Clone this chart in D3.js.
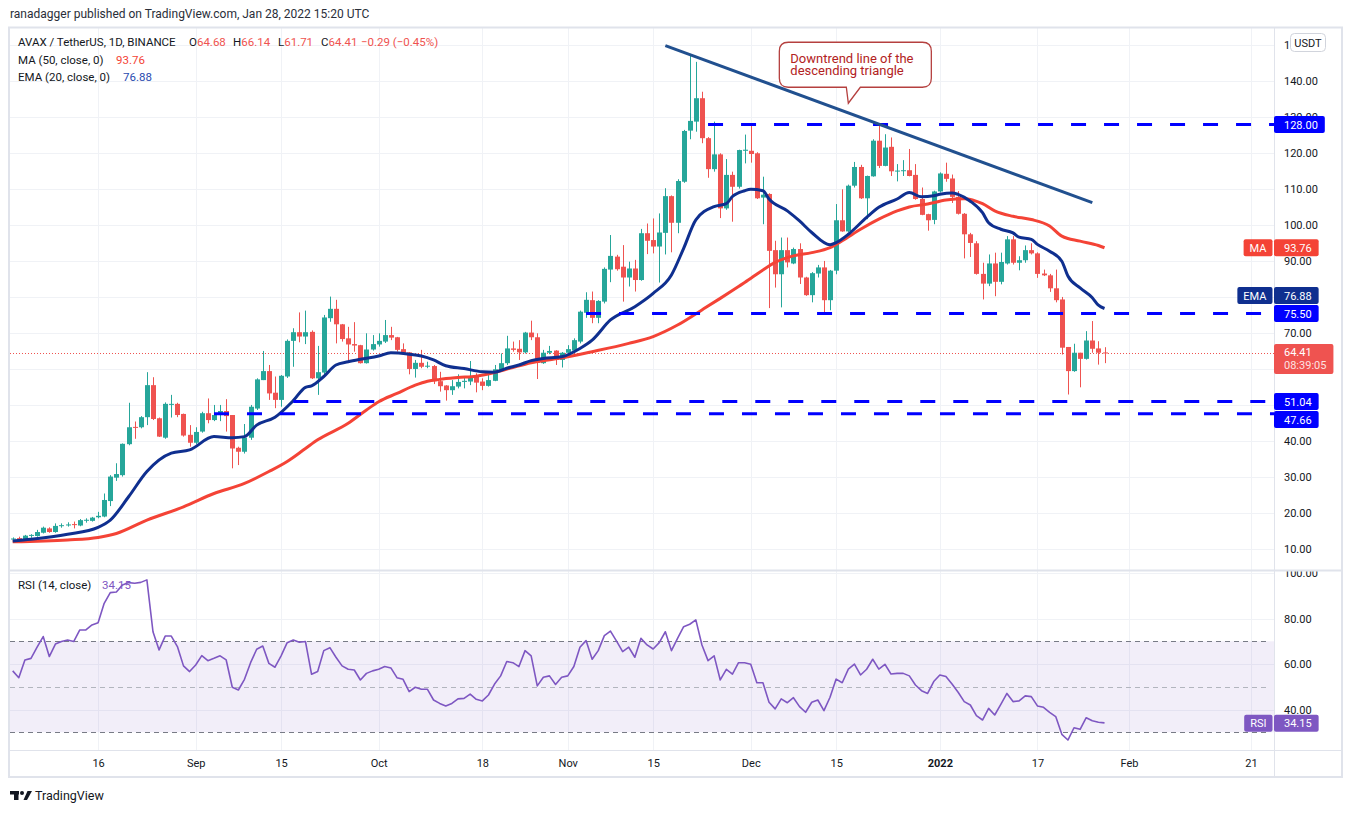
<!DOCTYPE html>
<html>
<head>
<meta charset="utf-8">
<title>AVAX / TetherUS 1D</title>
<script src="https://cdnjs.cloudflare.com/ajax/libs/d3/7.8.5/d3.min.js"></script>
<style>
    body { margin: 0; background: #fff; }
    svg { font-family: Roboto, "Noto Sans", sans-serif; }
</style>
</head>
<body>
<script>
    // daily candles, first one on Aug 2 2021
    var startDate = "2021-08-02";

    var opens = [12.9, 13.1, 12.6, 13.8, 13.7, 14.6, 15.8, 14.8, 16.5, 16.7,
        17.0, 16.6, 18.0, 17.9, 18.9, 19.1, 23.4, 29.9, 30.6, 39.2,
        44.0, 43.9, 46.7, 55.6, 46.4, 41.0, 50.3, 50.4, 47.6, 41.8,
        39.6, 42.7, 47.8, 45.9, 47.3, 48.4, 47.3, 38.2, 37.1, 41.0,
        49.1, 57.0, 59.5, 53.5, 51.5, 58.0, 67.9, 70.3, 69.1, 70.4,
        57.5, 59.1, 74.2, 76.8, 72.5, 68.6, 67.0, 66.7, 61.7, 65.5,
        66.9, 67.7, 69.5, 68.9, 65.6, 64.7, 60.1, 61.8, 60.8, 60.9,
        56.7, 55.5, 54.2, 55.2, 56.5, 56.6, 57.9, 56.6, 55.4, 56.8,
        59.8, 61.7, 65.8, 65.7, 64.7, 70.2, 68.9, 61.7, 64.6, 65.2,
        62.6, 64.6, 65.2, 67.7, 75.7, 79.2, 74.3, 78.8, 87.7, 91.3,
        88.5, 85.5, 88.0, 84.8, 97.8, 95.9, 94.1, 97.9, 108.1, 100.7,
        112.1, 126.3, 128.8, 135.3, 124.2, 115.6, 119.7, 104.7, 114.0, 110.7,
        120.7, 120.7, 120.0, 107.7, 108.7, 93.1, 86.4, 93.1, 89.4, 93.4,
        85.5, 80.6, 86.6, 88.3, 79.2, 87.4, 101.4, 98.3, 111.0, 116.2,
        107.5, 113.6, 123.5, 116.5, 121.8, 115.0, 115.2, 115.3, 114.0, 107.3,
        103.1, 101.5, 109.4, 114.3, 113.0, 107.9, 103.2, 97.5, 95.0, 86.5,
        83.8, 89.4, 84.3, 89.4, 96.1, 89.6, 90.3, 93.1, 92.2, 86.6,
        86.1, 82.5, 79.4, 66.2, 59.5, 64.6, 62.9, 68.0, 65.8, 64.68];

    var highs = [13.3, 13.5, 14.0, 14.2, 15.4, 16.3, 16.1, 17.2, 17.2, 17.5,
        17.7, 18.4, 18.6, 19.0, 20.4, 25.5, 30.6, 33.9, 39.4, 50.7,
        45.5, 47.0, 59.2, 57.8, 46.6, 50.8, 52.9, 50.7, 47.7, 44.5,
        43.9, 48.2, 51.9, 50.1, 50.1, 51.7, 47.3, 38.5, 44.8, 50.1,
        57.5, 65.1, 61.2, 58.0, 58.4, 68.3, 71.4, 75.8, 76.3, 70.8,
        66.5, 75.1, 80.2, 79.3, 72.6, 71.8, 73.1, 66.8, 70.0, 69.5,
        70.0, 73.7, 71.8, 69.0, 67.2, 64.8, 62.6, 65.4, 62.1, 61.2,
        59.3, 55.6, 57.0, 58.6, 57.9, 62.3, 58.9, 57.5, 58.4, 61.2,
        64.4, 69.3, 67.7, 68.1, 70.4, 73.5, 70.0, 65.4, 66.5, 65.3,
        64.8, 66.7, 68.6, 76.3, 81.4, 81.6, 79.2, 88.3, 97.3, 91.8,
        94.5, 89.9, 90.4, 99.0, 100.5, 101.9, 103.3, 110.3, 108.3, 112.8,
        126.5, 147.6, 145.4, 137.1, 124.5, 128.8, 120.0, 118.4, 114.9, 121.0,
        125.2, 127.6, 120.3, 113.5, 108.9, 95.7, 96.6, 96.6, 93.8, 95.0,
        85.7, 87.0, 89.0, 90.1, 87.6, 105.9, 110.0, 111.3, 117.6, 116.8,
        113.8, 123.9, 127.6, 125.3, 124.4, 117.0, 118.1, 121.2, 117.0, 110.5,
        103.2, 109.6, 114.7, 117.4, 114.1, 109.5, 103.4, 97.9, 95.6, 89.6,
        91.9, 92.4, 92.4, 97.0, 97.0, 91.4, 94.4, 95.0, 92.5, 87.7,
        86.5, 87.7, 80.1, 66.2, 67.1, 64.6, 70.6, 73.4, 67.8, 66.14];

    var lows = [12.7, 12.3, 12.4, 13.2, 13.5, 14.4, 14.6, 14.6, 16.0, 16.3,
        15.8, 16.4, 17.4, 17.7, 18.6, 18.9, 22.0, 29.0, 30.2, 38.9,
        40.7, 43.6, 44.5, 45.9, 41.2, 40.7, 46.6, 46.7, 41.3, 38.5,
        39.2, 42.4, 45.0, 45.6, 45.6, 42.7, 32.5, 33.4, 36.6, 40.4,
        48.7, 57.0, 51.5, 49.2, 49.6, 57.6, 60.7, 67.5, 67.0, 57.3,
        52.9, 58.4, 73.2, 67.2, 67.7, 61.8, 64.9, 61.6, 61.6, 65.2,
        66.3, 67.3, 68.1, 64.9, 64.0, 58.6, 57.7, 60.3, 60.3, 55.9,
        53.8, 51.3, 52.9, 54.7, 54.7, 55.6, 53.6, 54.2, 55.2, 56.7,
        59.3, 61.2, 64.9, 62.6, 64.4, 68.1, 57.3, 61.5, 64.2, 61.2,
        60.5, 64.2, 64.9, 67.2, 74.3, 72.8, 72.8, 78.3, 84.2, 87.4,
        78.8, 83.0, 81.6, 84.6, 92.0, 92.2, 84.1, 91.9, 92.5, 97.8,
        111.8, 123.9, 126.0, 122.8, 113.2, 114.9, 102.0, 104.3, 101.0, 110.2,
        117.2, 117.4, 107.3, 100.3, 77.0, 82.7, 77.2, 88.3, 89.2, 83.7,
        80.4, 78.6, 85.5, 75.8, 76.4, 86.4, 98.2, 98.1, 110.5, 107.3,
        101.7, 113.5, 115.9, 116.4, 113.7, 112.2, 113.7, 113.6, 107.1, 102.8,
        98.5, 100.3, 109.1, 112.1, 106.2, 103.0, 90.8, 91.2, 86.3, 79.4,
        83.1, 80.3, 83.6, 89.1, 89.1, 87.5, 89.6, 91.9, 85.4, 85.9,
        81.5, 78.6, 64.1, 53.0, 59.3, 55.0, 62.7, 64.6, 61.3, 61.71];

    var closes = [13.0, 12.6, 13.8, 14.0, 14.8, 16.0, 14.8, 16.5, 16.7, 16.9,
        16.8, 18.1, 18.2, 18.8, 19.3, 23.7, 30.2, 30.9, 39.3, 43.9,
        43.8, 46.7, 55.6, 46.2, 41.3, 50.4, 50.4, 47.3, 41.6, 39.6,
        42.6, 47.8, 45.9, 47.3, 48.4, 47.0, 38.0, 37.1, 41.0, 49.6,
        57.2, 59.5, 53.3, 51.5, 58.2, 67.9, 70.3, 69.1, 70.3, 57.5,
        59.2, 74.4, 76.8, 72.5, 68.4, 66.9, 66.6, 61.7, 65.5, 67.0,
        67.9, 69.5, 68.8, 65.4, 64.6, 60.1, 61.8, 60.7, 61.0, 56.7,
        55.3, 54.2, 55.3, 56.5, 56.8, 57.9, 56.3, 55.4, 57.0, 60.0,
        61.7, 65.8, 65.4, 64.7, 70.2, 68.9, 61.8, 64.6, 65.1, 62.6,
        64.6, 65.6, 68.1, 76.0, 79.3, 74.3, 79.0, 87.9, 91.5, 87.8,
        85.5, 88.0, 84.8, 97.8, 95.7, 94.1, 98.0, 108.1, 100.7, 112.3,
        126.2, 129.0, 135.3, 124.2, 115.6, 119.7, 104.7, 114.0, 110.7, 120.9,
        121.0, 119.8, 107.5, 108.5, 92.9, 86.4, 93.1, 89.7, 93.4, 85.5,
        80.6, 86.7, 88.3, 79.2, 87.4, 101.4, 98.3, 111.0, 116.2, 107.5,
        113.7, 123.5, 116.5, 121.6, 115.0, 115.2, 115.3, 113.7, 107.3, 102.9,
        101.4, 109.4, 114.4, 112.9, 107.9, 103.2, 97.5, 95.1, 86.5, 83.8,
        89.4, 84.3, 89.8, 96.1, 89.6, 90.3, 93.1, 92.2, 86.5, 86.1,
        82.5, 79.2, 66.0, 59.5, 64.6, 62.9, 68.0, 65.7, 64.6, 64.41];

    // RSI(14) one value per candle
    var rsiValues = [57.0, 54.0, 61.8, 62.5, 67.4, 72.1, 63.3, 68.8, 69.9, 70.6,
        69.9, 75.0, 75.0, 77.2, 78.2, 86.7, 91.4, 91.7, 94.8, 95.8,
        95.5, 95.9, 97.0, 74.2, 66.2, 72.3, 72.3, 67.7, 59.2, 56.7,
        59.6, 63.7, 61.5, 62.5, 63.6, 61.8, 49.8, 48.6, 53.3, 60.6,
        66.5, 67.9, 60.3, 58.6, 63.6, 69.4, 70.6, 69.6, 69.9, 55.5,
        56.7, 65.9, 67.2, 63.0, 59.2, 57.7, 57.4, 53.0, 55.9, 57.0,
        57.7, 58.9, 58.3, 54.0, 53.3, 47.9, 49.8, 48.9, 48.9, 44.2,
        42.7, 41.6, 42.7, 44.7, 44.9, 46.8, 44.5, 43.8, 46.4, 51.2,
        54.8, 61.1, 60.6, 58.9, 65.9, 63.6, 50.4, 54.2, 54.8, 51.0,
        54.2, 54.8, 58.9, 67.4, 70.3, 62.1, 65.9, 72.5, 74.5, 70.1,
        65.5, 67.4, 63.0, 71.3, 68.4, 66.6, 69.4, 74.2, 65.9, 71.3,
        76.4, 77.5, 79.4, 68.4, 61.5, 63.6, 53.0, 57.7, 55.6, 60.6,
        60.6, 59.9, 51.8, 51.8, 43.2, 40.3, 44.7, 43.0, 45.2, 41.3,
        38.8, 43.2, 44.2, 39.5, 45.4, 53.4, 51.8, 57.8, 60.0, 55.2,
        57.7, 62.1, 57.8, 59.9, 55.6, 55.9, 55.9, 54.8, 50.8, 48.3,
        47.1, 52.3, 55.2, 54.5, 51.2, 47.6, 43.5, 42.0, 37.3, 35.4,
        40.5, 37.6, 42.3, 47.1, 43.5, 43.8, 46.0, 45.7, 41.6, 41.0,
        38.8, 36.9, 29.1, 26.6, 32.0, 31.3, 36.4, 35.1, 34.4, 34.15];

    // moving averages
    var ema20 = [["2021-08-02", 12.3], ["2021-08-05", 12.8], ["2021-08-11", 14.2], ["2021-08-16", 16.1],
        ["2021-08-18", 18.1], ["2021-08-21", 24.6], ["2021-08-24", 31.6], ["2021-08-28", 36.7],
        ["2021-08-31", 37.6], ["2021-09-04", 41.3], ["2021-09-07", 41.0], ["2021-09-09", 41.3],
        ["2021-09-11", 44.5], ["2021-09-14", 46.7], ["2021-09-17", 51.3], ["2021-09-19", 55.0],
        ["2021-09-20", 55.4], ["2021-09-22", 58.0], ["2021-09-24", 61.2], ["2021-09-26", 62.1],
        ["2021-09-28", 62.8], ["2021-10-01", 63.7], ["2021-10-03", 64.6], ["2021-10-06", 64.2],
        ["2021-10-08", 63.7], ["2021-10-10", 62.6], ["2021-10-12", 61.0], ["2021-10-15", 60.2],
        ["2021-10-18", 59.3], ["2021-10-20", 59.2], ["2021-10-22", 60.3], ["2021-10-24", 61.2],
        ["2021-10-26", 62.4], ["2021-10-28", 63.0], ["2021-10-31", 63.5], ["2021-11-03", 65.8],
        ["2021-11-05", 68.1], ["2021-11-08", 73.7], ["2021-11-12", 77.4], ["2021-11-15", 81.1],
        ["2021-11-18", 86.2], ["2021-11-20", 93.6], ["2021-11-22", 101.5], ["2021-11-25", 105.2],
        ["2021-11-27", 106.0], ["2021-11-28", 108.0], ["2021-11-30", 109.6], ["2021-12-01", 110.0],
        ["2021-12-03", 109.6], ["2021-12-04", 107.3], ["2021-12-07", 104.0], ["2021-12-09", 101.2],
        ["2021-12-11", 98.0], ["2021-12-14", 94.6], ["2021-12-15", 95.2], ["2021-12-17", 97.5],
        ["2021-12-20", 102.2], ["2021-12-22", 105.0], ["2021-12-25", 107.3], ["2021-12-27", 109.1],
        ["2021-12-29", 107.9], ["2021-12-31", 108.2], ["2022-01-01", 108.6], ["2022-01-03", 109.0],
        ["2022-01-04", 108.6], ["2022-01-06", 106.7], ["2022-01-08", 103.5], ["2022-01-09", 100.7],
        ["2022-01-11", 98.9], ["2022-01-13", 97.9], ["2022-01-14", 96.7], ["2022-01-16", 96.1],
        ["2022-01-17", 94.7], ["2022-01-19", 92.8], ["2022-01-21", 90.0], ["2022-01-22", 85.9],
        ["2022-01-24", 82.6], ["2022-01-26", 79.9], ["2022-01-27", 77.8], ["2022-01-28", 76.88]];

    var ma50 = [["2021-08-02", 12.1], ["2021-08-11", 12.6], ["2021-08-16", 13.3], ["2021-08-19", 14.4],
        ["2021-08-24", 18.1], ["2021-08-30", 21.8], ["2021-09-04", 25.5], ["2021-09-09", 28.3],
        ["2021-09-13", 31.6], ["2021-09-16", 34.4], ["2021-09-19", 38.0], ["2021-09-21", 40.4],
        ["2021-09-26", 45.0], ["2021-09-29", 48.7], ["2021-10-01", 51.0], ["2021-10-04", 53.3],
        ["2021-10-07", 55.6], ["2021-10-09", 56.7], ["2021-10-11", 57.2], ["2021-10-14", 57.7],
        ["2021-10-17", 58.1], ["2021-10-20", 59.1], ["2021-10-23", 60.5], ["2021-10-26", 61.8],
        ["2021-10-30", 62.9], ["2021-11-01", 63.5], ["2021-11-05", 64.9], ["2021-11-11", 67.2],
        ["2021-11-15", 69.1], ["2021-11-19", 72.3], ["2021-11-23", 76.5], ["2021-11-26", 79.7],
        ["2021-11-29", 83.0], ["2021-11-30", 84.1], ["2021-12-03", 87.6], ["2021-12-05", 89.7],
        ["2021-12-08", 91.5], ["2021-12-11", 92.4], ["2021-12-14", 93.8], ["2021-12-16", 95.7],
        ["2021-12-19", 98.9], ["2021-12-22", 101.7], ["2021-12-25", 104.0], ["2021-12-27", 105.1],
        ["2021-12-30", 105.9], ["2022-01-02", 107.0], ["2022-01-05", 107.4], ["2022-01-08", 106.0],
        ["2022-01-10", 104.0], ["2022-01-13", 102.5], ["2022-01-16", 101.6], ["2022-01-19", 99.8],
        ["2022-01-21", 97.0], ["2022-01-24", 95.6], ["2022-01-27", 94.4], ["2022-01-28", 93.76]];

    // drawings
    var trendLine = [["2021-11-17", 149.9], ["2022-01-26", 106.3]];
    var levelPrices = [128.00, 75.50, 51.04, 47.66];
    var levelStarts = ["2021-11-24", "2021-11-04", "2021-09-17", "2021-09-04"];
    var calloutTip = ["2021-12-17", 133.9];
    var calloutText = ["Downtrend line of the", "descending triangle"];

    var priceTicks = [10, 20, 30, 40, 50, 60, 70, 80, 90, 100, 110, 120, 130, 140, 150];
    var rsiTicks = [40, 60, 80, 100];
    var timeTicks = ["2021-08-16", "2021-09-01", "2021-09-15", "2021-10-01", "2021-10-18", "2021-11-01",
        "2021-11-15", "2021-12-01", "2021-12-15", "2022-01-01", "2022-01-17", "2022-02-01", "2022-02-21"];
    var timeLabels = ["16", "Sep", "15", "Oct", "18", "Nov", "15", "Dec", "15", "2022", "17", "Feb", "21"];

    var lastPrice = 64.41, lastMA = 93.76, lastEMA = 76.88, lastRSI = 34.15;

    var upColor = "#26a69a", downColor = "#ef5350";
    var emaColor = "#0f2f8f", maColor = "#f44336", levelColor = "#0000ff", rsiColor = "#7e57c2";
    var textColor = "#131722", gridColor = "#f0f2f6", frameColor = "#e0e3eb";

    var width = 1352, height = 813;
    var left = 10, right = 1274, mainTop = 28, mainBottom = 570, rsiBottom = 750, frameBottom = 777;

    var parse = d3.utcParse("%Y-%m-%d");
    var t0 = parse(startDate);
    var dates = d3.utcDay.range(t0, d3.utcDay.offset(t0, closes.length));
    var candles = dates.map(function (d, i) {
        return { date: d, o: opens[i], h: highs[i], l: lows[i], c: closes[i] };
    });

    var x = d3.scaleUtc()
        .domain([parse("2021-08-02"), parse("2022-02-21")])
        .range([12.7, 1250.9]);
    var y = d3.scaleLinear().domain([10, 140]).range([549.3, 81.3]);
    var yr = d3.scaleLinear().domain([30, 70]).range([732.3, 641.3]);

    var svg = d3.select("body").append("svg")
        .attr("width", width)
        .attr("height", height);

    svg.append("rect").attr("width", width).attr("height", height).attr("fill", "#fff");

    var defs = svg.append("defs");
    function clip(id, x0, y0, w, h) {
        defs.append("clipPath").attr("id", id)
            .append("rect").attr("x", x0).attr("y", y0).attr("width", w).attr("height", h);
    }
    clip("mainClip", left, mainTop, right - left, mainBottom - mainTop);
    clip("rsiClip", left, mainBottom + 1, right - left, rsiBottom - mainBottom - 1);
    clip("mainAxisClip", right, mainTop, 70, mainBottom - mainTop);
    clip("rsiAxisClip", right, mainBottom + 1.5, 70, rsiBottom - mainBottom - 1.5);

    // header
    svg.append("text")
        .attr("x", 10).attr("y", 18)
        .attr("font-size", 12).attr("fill", "#2a2e39")
        .text("ranadagger published on TradingView.com, Jan 28, 2022 15:20 UTC");

    // grid
    var grid = svg.append("g");
    grid.selectAll(".hgrid").data(priceTicks).enter().append("line")
        .attr("x1", left).attr("x2", right)
        .attr("y1", function (d) { return Math.round(y(d)) + 0.5; })
        .attr("y2", function (d) { return Math.round(y(d)) + 0.5; })
        .attr("stroke", gridColor)
        .attr("clip-path", "url(#mainClip)");
    grid.selectAll(".vgrid").data(timeTicks).enter().append("line")
        .attr("x1", function (d) { return Math.round(x(parse(d))) + 0.5; })
        .attr("x2", function (d) { return Math.round(x(parse(d))) + 0.5; })
        .attr("y1", mainTop).attr("y2", rsiBottom)
        .attr("stroke", gridColor);
    grid.selectAll(".rgrid").data(rsiTicks).enter().append("line")
        .attr("x1", left).attr("x2", right)
        .attr("y1", function (d) { return Math.round(yr(d)) + 0.5; })
        .attr("y2", function (d) { return Math.round(yr(d)) + 0.5; })
        .attr("stroke", gridColor)
        .attr("clip-path", "url(#rsiClip)");

    // main pane
    var main = svg.append("g").attr("clip-path", "url(#mainClip)");

    main.append("line")
        .attr("x1", left).attr("x2", right)
        .attr("y1", Math.round(y(lastPrice)) + 0.5).attr("y2", Math.round(y(lastPrice)) + 0.5)
        .attr("stroke", downColor).attr("stroke-dasharray", "1,2");

    main.selectAll(".wick").data(candles).enter().append("line")
        .attr("x1", function (d) { return Math.round(x(d.date)) + 0.5; })
        .attr("x2", function (d) { return Math.round(x(d.date)) + 0.5; })
        .attr("y1", function (d) { return y(d.h); })
        .attr("y2", function (d) { return y(d.l); })
        .attr("stroke", function (d) { return d.c >= d.o ? upColor : downColor; })
        .attr("stroke-width", 1);

    main.selectAll(".body").data(candles).enter().append("rect")
        .attr("x", function (d) { return Math.round(x(d.date)) - 2; })
        .attr("width", 5)
        .attr("y", function (d) { return y(Math.max(d.o, d.c)); })
        .attr("height", function (d) { return Math.max(1, Math.abs(y(d.o) - y(d.c))); })
        .attr("fill", function (d) { return d.c >= d.o ? upColor : downColor; });

    var avgLine = d3.line()
        .x(function (d) { return x(parse(d[0])); })
        .y(function (d) { return y(d[1]); })
        .curve(d3.curveMonotoneX);

    main.append("path").datum(ma50)
        .attr("d", avgLine)
        .attr("fill", "none").attr("stroke", maColor).attr("stroke-width", 3)
        .attr("stroke-linejoin", "round");
    main.append("path").datum(ema20)
        .attr("d", avgLine)
        .attr("fill", "none").attr("stroke", emaColor).attr("stroke-width", 3)
        .attr("stroke-linejoin", "round");

    // horizontal levels
    main.selectAll(".level").data(levelPrices).enter().append("line")
        .attr("x1", function (d, i) { return x(parse(levelStarts[i])); })
        .attr("x2", right)
        .attr("y1", function (d) { return y(d); })
        .attr("y2", function (d) { return y(d); })
        .attr("stroke", levelColor).attr("stroke-width", 3)
        .attr("stroke-dasharray", "15,18");

    main.append("path").datum(trendLine)
        .attr("d", d3.line()
            .x(function (d) { return x(parse(d[0])); })
            .y(function (d) { return y(d[1]); }))
        .attr("stroke", "#21508f").attr("stroke-width", 3).attr("fill", "none");

    // callout
    var tipX = x(parse(calloutTip[0])), tipY = y(calloutTip[1]);
    var bl = tipX - 69, br = tipX + 83, bt = tipY - 61, bb = tipY - 16, r = 9;
    var cp = d3.path();
    cp.moveTo(bl + r, bt);
    cp.lineTo(br - r, bt);
    cp.quadraticCurveTo(br, bt, br, bt + r);
    cp.lineTo(br, bb - r);
    cp.quadraticCurveTo(br, bb, br - r, bb);
    cp.lineTo(tipX + 12, bb);
    cp.lineTo(tipX, tipY);
    cp.lineTo(tipX - 2, bb);
    cp.lineTo(bl + r, bb);
    cp.quadraticCurveTo(bl, bb, bl, bb - r);
    cp.lineTo(bl, bt + r);
    cp.quadraticCurveTo(bl, bt, bl + r, bt);
    cp.closePath();
    svg.append("path").attr("d", cp.toString())
        .attr("fill", "#fff").attr("stroke", "#b5403f").attr("stroke-width", 1.3);
    svg.selectAll(".callout").data(calloutText).enter().append("text")
        .attr("x", bl + 11)
        .attr("y", function (d, i) { return bt + 21 + i * 11.5; })
        .attr("font-size", 13).attr("fill", "#b22222")
        .text(function (d) { return d; });

    // legend
    var legend = svg.append("g").attr("font-size", 11.5).attr("fill", textColor);
    var l1 = legend.append("text").attr("y", 46);
    l1.append("tspan").attr("x", 18).text("AVAX / TetherUS, 1D, BINANCE");
    [["O", opens], ["H", highs], ["L", lows], ["C", closes]].forEach(function (p, i) {
        var xs = [189, 233, 278, 321][i];
        l1.append("tspan").attr("x", xs).text(p[0]);
        l1.append("tspan").attr("fill", downColor).text(p[1][p[1].length - 1].toFixed(2));
    });
    l1.append("tspan").attr("x", 361).attr("fill", downColor).text("\u22120.29 (\u22120.45%)");
    var l2 = legend.append("text").attr("x", 18).attr("y", 63.5);
    l2.append("tspan").text("MA (50, close, 0)");
    l2.append("tspan").attr("x", 116).attr("fill", maColor).text(lastMA.toFixed(2));
    var l3 = legend.append("text").attr("x", 18).attr("y", 81);
    l3.append("tspan").text("EMA (20, close, 0)");
    l3.append("tspan").attr("x", 123).attr("fill", "#2a4bb0").text(lastEMA.toFixed(2));

    // RSI pane
    var rsiG = svg.append("g").attr("clip-path", "url(#rsiClip)");
    rsiG.append("rect")
        .attr("x", left).attr("width", right - left)
        .attr("y", yr(70)).attr("height", yr(30) - yr(70))
        .attr("fill", rsiColor).attr("fill-opacity", 0.1);
    rsiG.selectAll(".band").data([70, 50, 30]).enter().append("line")
        .attr("x1", left).attr("x2", right - 5)
        .attr("y1", function (d) { return Math.round(yr(d)) + 0.5; })
        .attr("y2", function (d) { return Math.round(yr(d)) + 0.5; })
        .attr("stroke", function (d) { return d === 50 ? "#b2b5be" : "#787b86"; })
        .attr("stroke-dasharray", "5,4");
    svg.append("text").attr("x", 18).attr("y", 589)
        .attr("font-size", 11.5).attr("fill", textColor)
        .text("RSI (14, close)")
        .append("tspan").attr("x", 102).attr("fill", rsiColor).text(lastRSI.toFixed(2));
    rsiG.append("path").datum(rsiValues)
        .attr("d", d3.line()
            .x(function (d, i) { return x(dates[i]); })
            .y(function (d) { return yr(d); }))
        .attr("fill", "none").attr("stroke", rsiColor).attr("stroke-width", 1.6)
        .attr("stroke-linejoin", "round");

    // frame and separators
    var frame = svg.append("g").attr("stroke", frameColor).attr("fill", "none");
    frame.append("rect").attr("x", 9).attr("y", 27.5).attr("width", 1333).attr("height", frameBottom - 27.5)
        .attr("stroke-width", 2);
    frame.append("line").attr("x1", right + 0.5).attr("x2", right + 0.5).attr("y1", 28).attr("y2", frameBottom);
    frame.append("line").attr("x1", 9).attr("x2", 1342).attr("y1", mainBottom + 0.5).attr("y2", mainBottom + 0.5)
        .attr("stroke-width", 2);
    frame.append("line").attr("x1", 9).attr("x2", 1342).attr("y1", rsiBottom + 0.5).attr("y2", rsiBottom + 0.5);

    // price scale labels, pushed apart when they overlap
    var boxH = 17;
    var placed = [];
    function place(yc, h, dir) {
        var moved = true;
        while (moved) {
            moved = false;
            placed.forEach(function (p) {
                if (yc + h / 2 > p.top && yc - h / 2 < p.bottom) {
                    yc = dir < 0 ? p.top - h / 2 - 1 : p.bottom + h / 2 + 1;
                    moved = true;
                }
            });
        }
        placed.push({ top: yc - h / 2, bottom: yc + h / 2, center: yc, h: h });
        return yc;
    }
    var yMA = place(y(lastMA), boxH, -1);
    var y128 = place(y(levelPrices[0]), boxH, -1);
    var y755 = place(y(levelPrices[1]), boxH, 1);
    var y5104 = place(y(levelPrices[2]), boxH, -1);
    var y4766 = place(y(levelPrices[3]), boxH, 1);
    var yEMA = place(y(lastEMA), boxH, -1);
    var yLast = place(y(lastPrice) + 5.5, 30, 1);

    // tick labels that sit fully under a price box are not shown
    function hidden(ty) {
        return placed.some(function (p) { return Math.abs(ty - p.center) < p.h / 2 - 2.5; });
    }

    // axes
    function styleAxis(g) {
        g.select(".domain").remove();
        g.attr("font-family", null).attr("font-size", 11);
        g.selectAll("text").attr("fill", textColor);
    }
    svg.append("g").attr("clip-path", "url(#mainAxisClip)")
        .append("g")
        .attr("transform", "translate(" + right + ",0)")
        .call(d3.axisRight(y).tickValues(priceTicks.filter(function (d) { return !hidden(y(d)); }))
            .tickSize(0).tickPadding(10)
            .tickFormat(function (d) { return d.toFixed(2); }))
        .call(styleAxis);
    svg.append("g").attr("clip-path", "url(#rsiAxisClip)")
        .append("g")
        .attr("transform", "translate(" + right + ",0)")
        .call(d3.axisRight(yr).tickValues(rsiTicks).tickSize(0).tickPadding(10)
            .tickFormat(function (d) { return d.toFixed(2); }))
        .call(styleAxis);
    svg.append("g")
        .attr("transform", "translate(0," + rsiBottom + ")")
        .call(d3.axisBottom(x).tickValues(timeTicks.map(parse)).tickSize(0).tickPadding(9)
            .tickFormat(function (d, i) { return timeLabels[i]; }))
        .call(styleAxis)
        .selectAll("text")
        .attr("font-weight", function (d, i) { return timeLabels[i] === "2022" ? "bold" : null; });

    // USDT button over the top tick
    svg.append("rect").attr("x", 1290.5).attr("y", 33.5).attr("width", 35).attr("height", 18).attr("rx", 4)
        .attr("fill", "#fff").attr("stroke", "#d1d4dc");
    svg.append("text").attr("x", 1308).attr("y", 46.5).attr("text-anchor", "middle")
        .attr("font-size", 11).attr("fill", textColor).text("USDT");

    function axisBox(yc, h, lines, fill, tag) {
        var g = svg.append("g");
        var rect = g.append("rect").attr("x", right).attr("y", yc - h / 2).attr("height", h).attr("rx", 2).attr("fill", fill);
        var w = 0;
        lines.forEach(function (t, i) {
            var tx = g.append("text").attr("x", right + 10)
                .attr("y", yc - h / 2 + 12.5 + i * 13)
                .attr("font-size", 11).attr("fill", "#fff")
                .attr("fill-opacity", i === 0 ? 1 : 0.85)
                .text(t);
            w = Math.max(w, tx.node().getComputedTextLength());
        });
        rect.attr("width", w + 17);
        if (tag) {
            var tt = g.append("text").attr("y", yc + 4).attr("font-size", 11).attr("fill", "#fff")
                .attr("text-anchor", "middle").text(tag);
            var tw = tt.node().getComputedTextLength() + 12;
            g.insert("rect", "text").attr("x", right - 1.5 - tw).attr("y", yc - h / 2)
                .attr("width", tw).attr("height", h).attr("rx", 2).attr("fill", fill);
            tt.attr("x", right - 1.5 - tw / 2);
        }
    }

    axisBox(y128, boxH, [levelPrices[0].toFixed(2)], levelColor);
    axisBox(yMA, boxH, [lastMA.toFixed(2)], maColor, "MA");
    axisBox(yEMA, boxH, [lastEMA.toFixed(2)], emaColor, "EMA");
    axisBox(y755, boxH, [levelPrices[1].toFixed(2)], levelColor);
    axisBox(yLast, 30, [lastPrice.toFixed(2), "08:39:05"], downColor);
    axisBox(y5104, boxH, [levelPrices[2].toFixed(2)], levelColor);
    axisBox(y4766, boxH, [levelPrices[3].toFixed(2)], levelColor);
    axisBox(yr(lastRSI) + 0.5, boxH, [lastRSI.toFixed(2)], rsiColor, "RSI");

    // TradingView footer
    var logo = svg.append("g").attr("fill", textColor);
    logo.append("rect").attr("x", 10).attr("y", 791).attr("width", 9).attr("height", 3.5);
    logo.append("rect").attr("x", 14).attr("y", 791).attr("width", 4.5).attr("height", 9);
    logo.append("circle").attr("cx", 22).attr("cy", 793).attr("r", 2);
    logo.append("path").attr("d", "M23.5,800 L27.5,791 L32,791 L27,800 Z");
    svg.append("text").attr("x", 35).attr("y", 800)
        .attr("font-size", 12.5).attr("fill", textColor).text("TradingView");
</script>
</body>
</html>
